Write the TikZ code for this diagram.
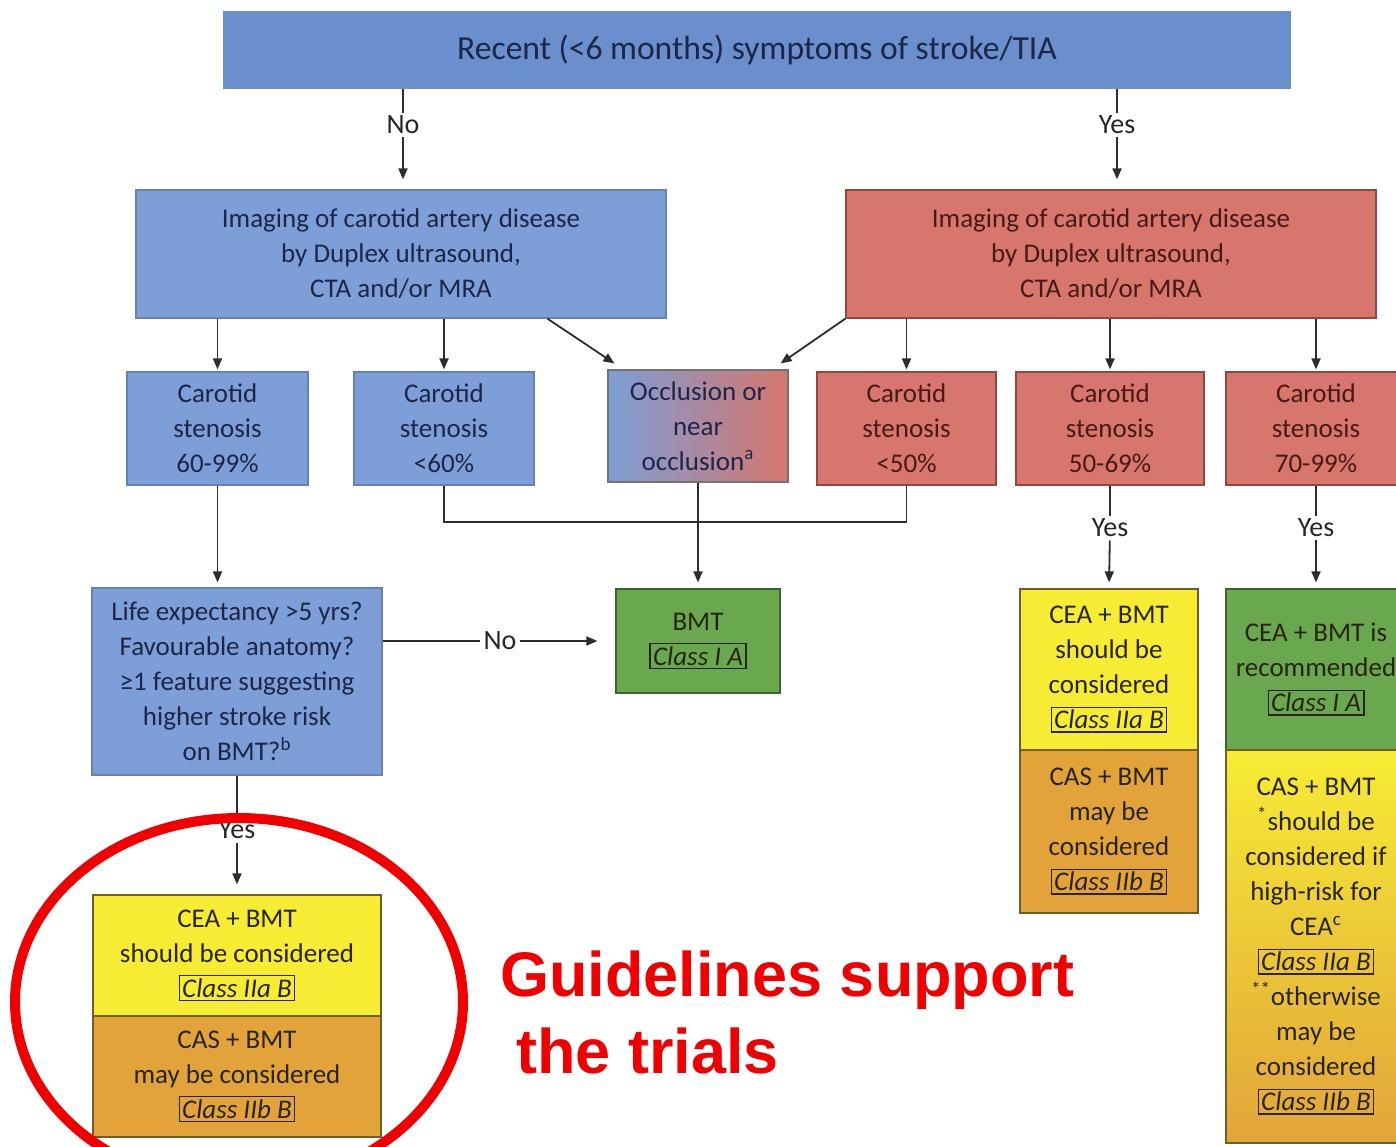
\documentclass[tikz,border=0pt]{standalone}
\usepackage{fontspec}
\setmainfont{Carlito}
\newfontfamily\redfont{Liberation Sans}
\usetikzlibrary{arrows.meta,calc}
\definecolor{topblue}{RGB}{106,143,204}
\definecolor{boxblue}{RGB}{125,158,214}
\definecolor{blueline}{RGB}{100,130,185}
\definecolor{boxred}{RGB}{214,118,108}
\definecolor{redline}{RGB}{150,70,65}
\definecolor{navy}{RGB}{28,38,72}
\definecolor{maroon}{RGB}{72,26,22}
\definecolor{bmtgreen}{RGB}{106,168,80}
\definecolor{greenline}{RGB}{60,100,45}
\definecolor{cyellow}{RGB}{246,236,52}
\definecolor{corange}{RGB}{226,164,58}
\definecolor{oliveline}{RGB}{110,95,40}
\definecolor{darktext}{RGB}{40,36,16}
\definecolor{conn}{RGB}{45,45,45}
\definecolor{markred}{RGB}{240,0,0}
\newcommand\cls[1]{{\setlength\fboxsep{1.2pt}\setlength\fboxrule{0.6pt}\fbox{\itshape #1}}}
\begin{document}
\begin{tikzpicture}[x=0.5pt,y=-0.5pt,
  sz/.style 2 args={minimum width=#1*0.5pt, minimum height=#2*0.5pt},
  base/.style={draw, align=center, inner sep=0pt, line width=0.6pt,
    font=\fontsize{13.5}{17.5}\selectfont},
  bluebox/.style={base, fill=boxblue, draw=blueline, text=navy},
  redbox/.style={base, fill=boxred, draw=redline, text=maroon},
  greenbox/.style={base, fill=bmtgreen, draw=greenline, text=darktext},
  yelbox/.style={base, fill=cyellow, draw=oliveline, text=darktext},
  orbox/.style={base, fill=corange, draw=oliveline, text=darktext},
  ln/.style={draw=conn, line width=0.9pt},
  arr/.style={ln, -{Triangle[length=5.5pt,width=4.5pt]}},
  lab/.style={font=\fontsize{14}{16}\selectfont, text=black!85, inner sep=1.5pt}]
\path[use as bounding box] (0,0) rectangle (1396,1146);
\clip (0,0) rectangle (1396,1146);
\fill[white] (0,0) rectangle (1396,1146);

% top
\node[base, fill=topblue, draw=topblue, text=navy, sz={1066}{76},
  font=\fontsize{16.8}{19}\selectfont] (top) at (757,50)
  {Recent (<6 months) symptoms of stroke/TIA};

% imaging
\node[bluebox, sz={530}{128}] (limg) at (401,254)
  {Imaging of carotid artery disease\\by Duplex ultrasound,\\CTA and/or MRA};
\node[redbox, sz={530}{128}] (rimg) at (1111,254)
  {Imaging of carotid artery disease\\by Duplex ultrasound,\\CTA and/or MRA};

% second row
\node[bluebox, sz={181}{113}] (A) at (217.5,428.5) {Carotid\\stenosis\\60-99\%};
\node[bluebox, sz={180}{113}] (B) at (444,428.5) {Carotid\\stenosis\\<60\%};
\node[base, left color=boxblue, right color=boxred, draw=black!55, text=navy,
  sz={180}{112}] (C) at (698,426) {Occlusion or\\near\\occlusion\textsuperscript{a}};
\node[redbox, sz={179}{113}] (D) at (906.5,428.5) {Carotid\\stenosis\\<50\%};
\node[redbox, sz={188}{113}] (E) at (1110,428.5) {Carotid\\stenosis\\50-69\%};
\node[redbox, sz={180}{113}] (F) at (1316,428.5) {Carotid\\stenosis\\70-99\%};

% third row
\node[bluebox, sz={290}{187}] (life) at (237,681.5)
  {Life expectancy >5 yrs?\\Favourable anatomy?\\≥1 feature suggesting\\higher stroke risk\\on BMT?\textsuperscript{b}};
\node[greenbox, sz={164}{104}] (bmt) at (698,641) {BMT\\\cls{Class I A}};

\node[yelbox, sz={178}{161}] (E1) at (1109,669.5)
  {CEA + BMT\\should be\\considered\\\cls{Class IIa B}};
\node[orbox, sz={178}{163}] (E2) at (1109,831.5)
  {CAS + BMT\\may be\\considered\\\cls{Class IIb B}};

\node[greenbox, sz={180}{161}] (F1) at (1316,669.5)
  {CEA + BMT is\\recommended\\\cls{Class I A}};
\node[base, top color=cyellow, bottom color=corange, draw=oliveline, text=darktext,
  sz={180}{393}] (F2) at (1316,946.5)
  {CAS + BMT\\\textsuperscript{*}should be\\considered if\\high-risk for\\CEA\textsuperscript{c}\\\cls{Class IIa B}\\\textsuperscript{**}otherwise\\may be\\considered\\\cls{Class IIb B}};

\node[yelbox, sz={288}{121}] (L1) at (237,955.5)
  {CEA + BMT\\should be considered\\\cls{Class IIa B}};
\node[orbox, sz={288}{121}] (L2) at (237,1076.5)
  {CAS + BMT\\may be considered\\\cls{Class IIb B}};

% labels
\node[lab] (no1) at (403,125) {No};
\node[lab] (yes1) at (1117,125) {Yes};
\node[lab] (no2) at (500,641) {No};
\node[lab] (yesE) at (1110,528) {Yes};
\node[lab] (yesF) at (1316,528) {Yes};
\node[lab] (yesL) at (237,830) {Yes};

% connectors
\draw[ln] (top.south -| no1) -- (no1);
\draw[arr, shorten >=5pt] (no1) -- (limg.north -| no1);
\draw[ln] (top.south -| yes1) -- (yes1);
\draw[arr, shorten >=5pt] (yes1) -- (rimg.north -| yes1);

\draw[arr, shorten >=1pt] (limg.south -| A) -- (A.north);
\draw[arr, shorten >=1pt] (limg.south -| B) -- (B.north);
\draw[arr] ($(limg.south west)+(412,0)$) -- ($(C.north west)+(7,-6)$);
\draw[arr] (rimg.south west) -- ($(C.north east)+(-8,-6)$);
\draw[arr, shorten >=1pt] (rimg.south -| D) -- (D.north);
\draw[arr, shorten >=1pt] (rimg.south -| E) -- (E.north);
\draw[arr, shorten >=1pt] (rimg.south -| F) -- (F.north);

\draw[ln] (B.south) -- ++(0,36) -| (D.south);
\draw[arr, shorten >=3pt] (C.south) -- (bmt.north);
\draw[arr, shorten >=2.5pt] (A.south) -- (A.south |- life.north);

\draw[ln] (life.east |- no2) -- (no2);
\draw[arr, shorten >=9pt] (no2) -- (bmt.west |- no2);

\draw[ln] (E.south) -- (yesE);
\draw[arr, shorten >=3pt] (yesE) -- (E1.north);
\draw[ln] (F.south) -- (yesF);
\draw[arr, shorten >=3pt] (yesF) -- (F1.north);

\draw[ln] (life.south) -- (yesL);
\draw[arr, shorten >=5pt] (yesL) -- (L1.north);

% highlight
\draw[markred, line width=5pt] (239,1002) ellipse [x radius=112pt, y radius=92pt];
\node[anchor=base west, inner sep=0pt, text=markred,
  font=\redfont\bfseries\fontsize{31.5}{36}\selectfont] (g1) at (500,996) {Guidelines support};
\node[anchor=base west, inner sep=0pt, text=markred,
  font=\redfont\bfseries\fontsize{31.5}{36}\selectfont] (g2) at (516,1073) {the trials};
\end{tikzpicture}
\end{document}
